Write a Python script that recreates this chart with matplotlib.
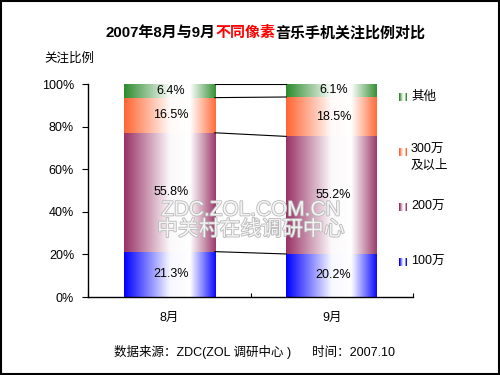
import numpy as np
import matplotlib
matplotlib.use('Agg')
import matplotlib.pyplot as plt
from matplotlib import colors as mcolors
from matplotlib.patches import Rectangle
import matplotlib.patheffects as pe

plt.rcParams['font.family'] = ['Liberation Sans', 'Noto Sans CJK SC', 'DejaVu Sans']

# data
months = ['8月', '9月']
series = ['100万', '200万', '300万\n及以上', '其他']
v_100 = [21.3, 20.2]
v_200 = [55.8, 55.2]
v_300 = [16.5, 18.5]
v_other = [6.4, 6.1]
values = [v_100, v_200, v_300, v_other]
bar_colors = ['#0000ff', '#993366', '#ff6633', '#2e8b2e']
yticks = [0, 20, 40, 60, 80, 100]


def gradient(color, n=100):
    # colour at the edges, fading to white a bit right of the centre
    t = np.linspace(0, 1, n)
    w = np.interp(t, [0, 0.5, 0.72, 1.0], [0.0, 0.97, 1.0, 0.05])
    c = np.array(mcolors.to_rgb(color))
    rgb = c[None, :] * (1 - w[:, None]) + w[:, None]
    return rgb[None, :, :]


fig = plt.figure(figsize=(5, 3.75), dpi=100)
ax = fig.add_axes([0.176, 0.208, 0.65, 0.568])

width = 0.56
x = np.arange(len(months))
bottoms = np.zeros(len(months))
tops = []
for vals, col in zip(values, bar_colors):
    for i in range(len(months)):
        y0 = bottoms[i]
        y1 = y0 + vals[i]
        ax.imshow(gradient(col), extent=[x[i] - width / 2, x[i] + width / 2, y0, y1],
                  aspect='auto', zorder=2, interpolation='bilinear')
        ax.text(x[i] + 0.01, (y0 + y1) / 2, '%.1f%%' % vals[i], ha='center', va='center',
                fontsize=9, zorder=4)
    bottoms = bottoms + np.array(vals)
    tops.append(bottoms.copy())

# series lines between the bars
for cum in tops:
    ax.plot([x[0] + width / 2, x[1] - width / 2], [cum[0], cum[1]], color='black', lw=0.8, zorder=3)

ax.set_xlim(-0.5, 1.5)
ax.set_ylim(0, 100)
ax.set_xticks(x)
ax.set_xticklabels(months, fontsize=9)
ax.tick_params(axis='x', length=0, pad=11)
ax.set_xticks([-0.5, 0.5, 1.5], minor=True)
ax.tick_params(axis='x', which='minor', direction='in', length=3, width=0.8)
ax.set_yticks(yticks)
ax.set_yticklabels(['%d%%' % v for v in yticks], fontsize=9)
ax.tick_params(axis='y', direction='out', length=4, width=0.8, pad=6)
ax.spines['top'].set_visible(False)
ax.spines['right'].set_visible(False)
for s in ['left', 'bottom']:
    ax.spines[s].set_linewidth(1.0)

# watermark
wm = [pe.withStroke(linewidth=1.2, foreground='#b8b8b8')]
fig.text(0.502, 0.440, 'ZDC.ZOL.COM.CN', ha='center', va='center', fontsize=15,
         color='#f4f4f4', path_effects=wm, zorder=5)
fig.text(0.502, 0.388, '中关村在线调研中心', ha='center', va='center', fontsize=15,
         color='#f4f4f4', path_effects=wm, zorder=5)

# title, middle part in red
ty = 0.912
t1 = fig.text(0.21, ty, '2007年8月与9月', fontsize=10.8, fontweight='bold', ha='left', va='center')
fig.canvas.draw()
xr = t1.get_window_extent().x1 / fig.bbox.width
t2 = fig.text(xr, ty, '不同像素', fontsize=10.8, fontweight='bold', color='#ff0000', ha='left', va='center')
fig.canvas.draw()
xr2 = t2.get_window_extent().x1 / fig.bbox.width
fig.text(xr2, ty, '音乐手机关注比例对比', fontsize=10.8, fontweight='bold', ha='left', va='center')

fig.text(0.088, 0.843, '关注比例', fontsize=9, ha='left', va='center')

# legend
leg_y = [0.741, 0.595, 0.448, 0.301]
leg_labels = series[::-1]
leg_cols = bar_colors[::-1]
for yy, lab, col in zip(leg_y, leg_labels, leg_cols):
    lax = fig.add_axes([0.798, yy - 0.011, 0.016, 0.022])
    lax.imshow(gradient(col, 8), aspect='auto', interpolation='nearest')
    lax.axis('off')
    if '\n' in lab:
        fig.text(0.822, yy + 0.02, lab, fontsize=9, ha='left', va='top', linespacing=1.35)
    else:
        fig.text(0.822, yy, lab, fontsize=9, ha='left', va='center')

fig.text(0.51, 0.061, '数据来源：ZDC(ZOL 调研中心 )      时间：2007.10', fontsize=9, ha='center', va='center')

fig.patches.append(Rectangle((0.002, 0.003), 0.995, 0.994, transform=fig.transFigure,
                             fill=False, edgecolor='black', linewidth=1.5))

fig.savefig('out.png', dpi=100)
